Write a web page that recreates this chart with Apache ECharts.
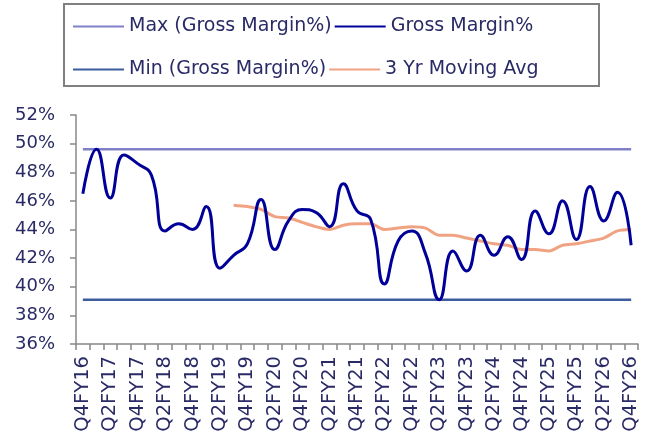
<!DOCTYPE html>
<html>
<head>
<meta charset="utf-8">
<script src="https://cdn.jsdelivr.net/npm/echarts@6/dist/echarts.min.js"></script>
<style>
html,body{margin:0;padding:0;background:#fff;}
#chart{width:656px;height:439px;}
</style>
</head>
<body>
<div id="chart"></div>
<script>
var categories = [
  'Q4FY16',
  'Q1FY17','Q2FY17','Q3FY17','Q4FY17',
  'Q1FY18','Q2FY18','Q3FY18','Q4FY18',
  'Q1FY19','Q2FY19','Q3FY19','Q4FY19',
  'Q1FY20','Q2FY20','Q3FY20','Q4FY20',
  'Q1FY21','Q2FY21','Q3FY21','Q4FY21',
  'Q1FY22','Q2FY22','Q3FY22','Q4FY22',
  'Q1FY23','Q2FY23','Q3FY23','Q4FY23',
  'Q1FY24','Q2FY24','Q3FY24','Q4FY24',
  'Q1FY25','Q2FY25','Q3FY25','Q4FY25',
  'Q1FY26','Q2FY26','Q3FY26','Q4FY26'
];
var grossMargin = [
  46.5,
  49.6, 46.2, 49.2, 48.6,
  47.8, 43.9, 44.4, 44.0,
  45.6, 41.3, 42.2, 43.0,
  46.1, 42.6, 44.6, 45.4,
  45.2, 44.2, 47.2, 45.3,
  44.7, 40.2, 43.2, 43.9,
  42.3, 39.1, 42.5, 41.1,
  43.6, 42.2, 43.5, 41.9,
  45.3, 43.7, 46.0, 43.3,
  47.0, 44.6, 46.6, 42.9
];
var movingAvg3Yr = [
  null,
  null, null, null, null,
  null, null, null, null,
  null, null, 45.7, 45.6,
  45.4, 44.9, 44.8, 44.5,
  44.2, 44.0, 44.3, 44.4,
  44.4, 44.0, 44.1, 44.2,
  44.1, 43.6, 43.6, 43.4,
  43.2, 43.0, 42.9, 42.6,
  42.6, 42.5, 42.9, 43.0,
  43.2, 43.4, 43.9, 44.0
];
var yTicks = { min: 36, max: 52, interval: 2 };

var maxValue = Math.max.apply(null, grossMargin);
var minValue = Math.min.apply(null, grossMargin);
var maxLine = categories.map(function(){ return maxValue; });
var minLine = categories.map(function(){ return minValue; });

var textColor = '#2a2a66';
var fontFam = 'DejaVu Sans';

var chart = echarts.init(document.getElementById('chart'), null, {renderer:'canvas'});
var legendCommon = {
  orient: 'horizontal',
  left: 72,
  padding: 0,
  itemWidth: 51,
  itemHeight: 14,
  itemGap: 2,
  itemStyle: { opacity: 0 },
  textStyle: { fontFamily: fontFam, fontSize: 19, color: textColor, width: 204 },
  selectedMode: false
};
chart.setOption({
  animation: false,
  backgroundColor: '#ffffff',
  graphic: [{
    type: 'rect',
    shape: { x: 64, y: 4, width: 535, height: 82 },
    style: { fill: 'none', stroke: '#808080', lineWidth: 2 },
    silent: true
  }],
  legend: [
    Object.assign({}, legendCommon, { top: 17, data: ['Max (Gross Margin%)', 'Gross Margin%'] }),
    Object.assign({}, legendCommon, { top: 60, data: ['Min (Gross Margin%)', '3 Yr Moving Avg'] })
  ],
  grid: { left: 76, right: 18, top: 115, bottom: 95, containLabel: false },
  xAxis: {
    type: 'category',
    data: categories,
    boundaryGap: true,
    axisLine: { lineStyle: { color: '#888888', width: 1.5 } },
    axisTick: { show: true, interval: 0, length: 6, lineStyle: { color: '#888888', width: 1.5 } },
    axisLabel: {
      interval: 1, rotate: 90, margin: 12,
      fontFamily: fontFam, fontSize: 19.5, color: textColor
    },
    splitLine: { show: false }
  },
  yAxis: {
    type: 'value',
    min: yTicks.min, max: yTicks.max, interval: yTicks.interval,
    axisLine: { show: true, lineStyle: { color: '#888888', width: 1.5 } },
    axisTick: { show: true, length: 6, lineStyle: { color: '#888888', width: 1.5 } },
    axisLabel: {
      margin: 21, fontFamily: fontFam, fontSize: 18, color: textColor,
      formatter: '{value}%'
    },
    splitLine: { show: false }
  },
  series: [
    {
      name: 'Max (Gross Margin%)', type: 'line', data: maxLine,
      symbol: 'none', lineStyle: { color: '#8080c8', width: 2.5 }, itemStyle: { color: '#8080c8' }, z: 1
    },
    {
      name: 'Gross Margin%', type: 'line', data: grossMargin, smooth: 0.5,
      symbol: 'none', lineStyle: { color: '#000099', width: 3 }, itemStyle: { color: '#000099' }, z: 4
    },
    {
      name: 'Min (Gross Margin%)', type: 'line', data: minLine,
      symbol: 'none', lineStyle: { color: '#3d5c9e', width: 2.5 }, itemStyle: { color: '#3d5c9e' }, z: 2
    },
    {
      name: '3 Yr Moving Avg', type: 'line', data: movingAvg3Yr, smooth: 0.3,
      symbol: 'none', lineStyle: { color: '#f0a383', width: 3 }, itemStyle: { color: '#f0a383' }, z: 3
    }
  ]
});
</script>
</body>
</html>
